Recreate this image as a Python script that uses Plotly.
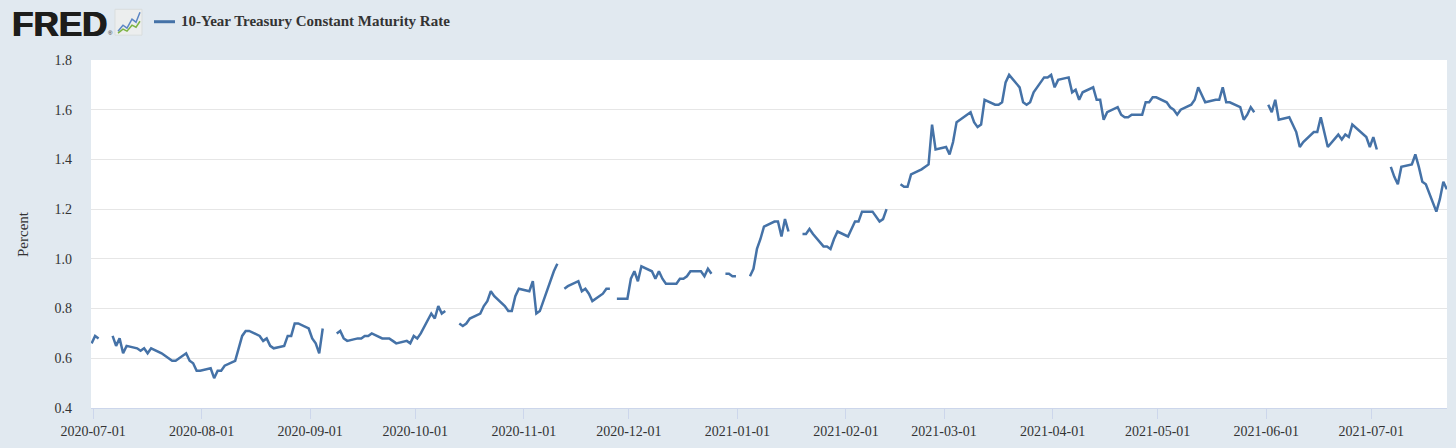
import pandas as pd
import plotly.graph_objects as go

# 10-Year Treasury Constant Maturity Rate (DGS10), percent.
# One value per business day, None where the bond market was closed.
jun_2020 = [0.66]
jul_2020 = [0.69, 0.68, None, 0.69, 0.65, 0.68, 0.62, 0.65, 0.64, 0.63, 0.64, 0.62,
            0.64, 0.62, 0.61, 0.60, 0.59, 0.59, 0.62, 0.59, 0.58, 0.55, 0.55]
aug_2020 = [0.56, 0.52, 0.55, 0.55, 0.57, 0.59, 0.64, 0.69, 0.71, 0.71, 0.69, 0.67,
            0.68, 0.65, 0.64, 0.65, 0.69, 0.69, 0.74, 0.74, 0.72]
sep_2020 = [0.68, 0.66, 0.62, 0.72, None, 0.70, 0.71, 0.68, 0.67, 0.68, 0.68, 0.69,
            0.69, 0.70, 0.68, 0.68, 0.68, 0.67, 0.66, 0.67, 0.66, 0.69]
oct_2020 = [0.68, 0.70, 0.78, 0.76, 0.81, 0.78, 0.79, None, 0.74, 0.73, 0.74, 0.76,
            0.78, 0.81, 0.83, 0.87, 0.85, 0.81, 0.79, 0.79, 0.85, 0.88]
nov_2020 = [0.87, 0.91, 0.78, 0.79, 0.83, 0.95, 0.98, None, 0.88, 0.89, 0.91, 0.87,
            0.88, 0.86, 0.83, 0.86, 0.88, 0.88, None, 0.84, 0.84]
dec_2020 = [0.92, 0.95, 0.91, 0.97, 0.95, 0.92, 0.95, 0.92, 0.90, 0.90, 0.92, 0.92,
            0.93, 0.95, 0.95, 0.93, 0.96, 0.94, None, 0.94, 0.94, 0.93, 0.93]
jan_2021 = [None, 0.93, 0.96, 1.04, 1.08, 1.13, 1.15, 1.15, 1.09, 1.16, 1.11, None,
            1.10, 1.10, 1.12, 1.10, 1.05, 1.05, 1.04, 1.08, 1.11]
feb_2021 = [1.09, 1.12, 1.15, 1.15, 1.19, 1.19, 1.17, 1.15, 1.16, 1.20, None, 1.30,
            1.29, 1.29, 1.34, 1.36, 1.37, 1.38, 1.54, 1.44]
mar_2021 = [1.45, 1.42, 1.47, 1.55, 1.56, 1.59, 1.55, 1.53, 1.54, 1.64, 1.62, 1.62,
            1.63, 1.71, 1.74, 1.69, 1.63, 1.62, 1.63, 1.67, 1.73, 1.73, 1.74]
apr_2021 = [1.69, 1.72, 1.73, 1.67, 1.68, 1.64, 1.67, 1.69, 1.64, 1.64, 1.56, 1.59,
            1.61, 1.58, 1.57, 1.57, 1.58, 1.58, 1.63, 1.63, 1.65, 1.65]
may_2021 = [1.63, 1.61, 1.60, 1.58, 1.60, 1.62, 1.64, 1.69, 1.66, 1.63, 1.64, 1.64,
            1.69, 1.63, 1.63, 1.61, 1.56, 1.58, 1.61, 1.59, None]
jun_2021 = [1.62, 1.59, 1.64, 1.56, 1.57, 1.54, 1.51, 1.45, 1.47, 1.51, 1.51, 1.57,
            1.51, 1.45, 1.50, 1.48, 1.50, 1.49, 1.54, 1.50, 1.49, 1.45]
jul_2021 = [1.49, 1.44, None, 1.37, 1.33, 1.30, 1.37, 1.38, 1.42, 1.37, 1.31, 1.30,
            1.19, 1.24, 1.31, 1.28]

values = (jun_2020 + jul_2020 + aug_2020 + sep_2020 + oct_2020 + nov_2020 + dec_2020
          + jan_2021 + feb_2021 + mar_2021 + apr_2021 + may_2021 + jun_2021 + jul_2021)
days = pd.bdate_range("2020-06-30", "2021-07-22")
assert len(days) == len(values), (len(days), len(values))

# FRED stamps each observation a little after midnight on the time axis
x = days + pd.Timedelta(hours=14)

LINE = "#4572a7"
BG = "#e1e9f0"
TXT = "#333333"
SERIF = "Liberation Serif, Times New Roman, serif"

W, H = 1456, 448
L, R, T, B = 91, 9, 60, 38


def px(v):  # pixel x -> paper
    return (v - L) / (W - L - R)


def py(v):  # pixel y -> paper
    return (H - B - v) / (H - T - B)


fig = go.Figure(go.Scatter(
    x=x, y=values, mode="lines", connectgaps=False,
    line=dict(color=LINE, width=2.5),
    name="10-Year Treasury Constant Maturity Rate",
    showlegend=False,
))

fig.update_xaxes(
    type="date",
    range=["2020-06-30 10:00", "2021-07-22 15:00"],
    tickvals=pd.date_range("2020-07-01", "2021-07-01", freq="MS"),
    tickformat="%Y-%m-%d",
    ticks="outside", ticklen=10, tickwidth=1, tickcolor="#ccd6eb",
    showline=True, linecolor="#ccd6eb", linewidth=1,
    showgrid=False, zeroline=False,
    tickfont=dict(family=SERIF, size=14, color=TXT),
)
fig.update_yaxes(
    range=[0.4, 1.8], dtick=0.2, tick0=0.4, tickformat=".1f",
    showgrid=True, gridcolor="#e6e6e6", gridwidth=1,
    zeroline=False, showline=False, ticks="",
    ticklabelstandoff=18,
    tickfont=dict(family=SERIF, size=14, color=TXT),
)

# header: FRED logo, legend swatch and series name
shapes = [
    dict(type="rect", xref="paper", yref="paper",
         x0=px(115), x1=px(142), y0=py(35), y1=py(9),
         fillcolor="#eceeee", line=dict(color="#d9dddd", width=1)),
    dict(type="path", xref="paper", yref="paper",
         path=f"M{px(118)},{py(31)} L{px(123)},{py(25)} L{px(127)},{py(28)} "
              f"L{px(132)},{py(19)} L{px(136)},{py(22)} L{px(140)},{py(12)}",
         line=dict(color="#5b86c4", width=1.5)),
    dict(type="path", xref="paper", yref="paper",
         path=f"M{px(118)},{py(33)} L{px(123)},{py(29)} L{px(127)},{py(31)} "
              f"L{px(132)},{py(25)} L{px(136)},{py(27)} L{px(140)},{py(21)}",
         line=dict(color="#7cb342", width=1.5)),
    dict(type="line", xref="paper", yref="paper",
         x0=px(154), x1=px(175), y0=py(21.5), y1=py(21.5),
         line=dict(color=LINE, width=3)),
]

annotations = [
    dict(text="<b>FRED</b>", x=px(11), y=py(23), xref="paper", yref="paper",
         xanchor="left", yanchor="middle", showarrow=False, borderpad=0,
         font=dict(family="Liberation Sans, Arial, sans-serif", size=35,
                   color="#1d1d1b",
                   shadow="0.8px 0px 0px #1d1d1b, -0.4px 0px 0px #1d1d1b")),
    dict(text="®", x=px(107), y=py(33), xref="paper", yref="paper",
         xanchor="left", yanchor="middle", showarrow=False, borderpad=0,
         font=dict(family="Liberation Sans, Arial, sans-serif", size=6, color="#1d1d1b")),
    dict(text="<b>10-Year Treasury Constant Maturity Rate</b>", x=px(180), y=py(21),
         xref="paper", yref="paper", xanchor="left", yanchor="middle",
         showarrow=False, borderpad=0,
         font=dict(family=SERIF, size=15, color=TXT)),
    dict(text="Percent", x=px(23), y=0.5, xref="paper", yref="paper",
         xanchor="center", yanchor="middle", textangle=-90, showarrow=False,
         font=dict(family=SERIF, size=15, color=TXT)),
]

fig.update_layout(
    width=W, height=H,
    margin=dict(l=L, r=R, t=T, b=B),
    paper_bgcolor=BG, plot_bgcolor="white",
    shapes=shapes, annotations=annotations,
    showlegend=False,
)

# the page's default body margin would shift the figure by 8px
fig.write_html("out.html", config={"displayModeBar": False},
               post_script="document.body.style.margin='0px';")
